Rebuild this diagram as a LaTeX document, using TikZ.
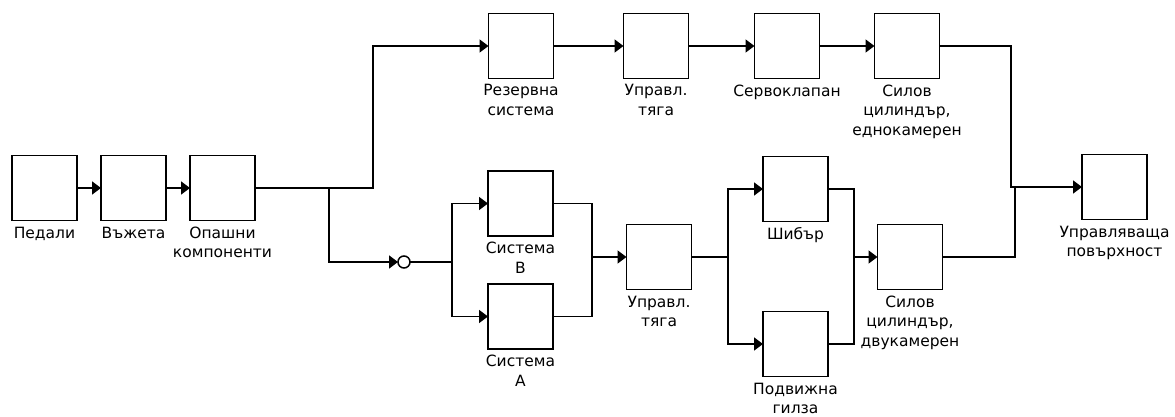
\documentclass[tikz,border=0pt]{standalone}
\usepackage{fontspec}
\setmainfont{DejaVu Sans}
\usetikzlibrary{arrows.meta, positioning}
\tikzset{
    block/.style={rectangle, draw=black, fill=white, line width=1.5pt, minimum width=65pt, minimum height=65pt, inner sep=0pt, outer sep=0pt},
    caption/.style={align=center, inner sep=0pt, font=\fontsize{15.5}{19.5}\selectfont},
    junction/.style={circle, draw=black, fill=white, line width=1.5pt, minimum size=12pt, inner sep=0pt, outer sep=0pt},
    wire/.style={line width=1.5pt},
    arrow/.style={wire, -{Triangle[length=9pt, width=13pt]}}
}

\begin{document}
\begin{tikzpicture}[x=1pt, y=-1pt, node distance=24pt]
        \fill[white] (0,0) rectangle (1175,417);
        \useasboundingbox (0,0) rectangle (1175,417);

        % Input chain
        \node (ped) [block] at (44.5,188) {};
        \node (vuzh) [block, right=24pt of ped] {};
        \node (opash) [block, right=24pt of vuzh] {};

        % Backup branch (top)
        \node (rez) [block] at (521,46) {};
        \node (upr1) [block, right=70pt of rez] {};
        \node (servo) [block, right=66pt of upr1] {};
        \node (silov1) [block, right=55pt of servo] {};

        % Main branch, systems B and A
        \node (sysB) [block] at (520.5,203.5) {};
        \node (sysA) [block, below=48pt of sysB] {};
        \node (upr2) [block] at (659,257) {};

        % Slide valve and sleeve
        \node (shib) [block] at (795.5,189) {};
        \node (podv) [block, below=90pt of shib] {};
        \node (silov2) [block] at (910,257) {};

        % Output
        \node (surf) [block] at (1114.5,187) {};

        % Captions
        \node (pedT) [caption, below=6pt of ped, anchor=north] {Педали};
        \node (vuzhT) [caption, below=6pt of vuzh, anchor=north] {Въжета};
        \node (opashT) [caption, below=6pt of opash, anchor=north] {Опашни\\компоненти};
        \node (rezT) [caption, below=6pt of rez, anchor=north] {Резервна\\система};
        \node (upr1T) [caption, below=6pt of upr1, anchor=north] {Управл.\\тяга};
        \node (servoT) [caption, below=6pt of servo, anchor=north] {Сервоклапан};
        \node (silov1T) [caption, below=6pt of silov1, anchor=north] {Силов\\цилиндър,\\еднокамерен};
        \node (sysBT) [caption, below=6pt of sysB, anchor=north] {Система\\В};
        \node (sysAT) [caption, below=6pt of sysA, anchor=north] {Система\\А};
        \node (upr2T) [caption, below=6pt of upr2, anchor=north] {Управл.\\тяга};
        \node (shibT) [caption, below=6pt of shib, anchor=north] {Шибър};
        \node (podvT) [caption, below=6pt of podv, anchor=north] {Подвижна\\гилза};
        \node (silov2T) [caption, below=6pt of silov2, anchor=north] {Силов\\цилиндър,\\двукамерен};
        \node (surfT) [caption, below=6pt of surf, anchor=north] {Управляваща\\повърхност};

        % Branch points
        \coordinate (jSplit) at (329,188);
        \coordinate (jTop) at (373,188);
        \node (circ) [junction] at (404,262) {};
        \coordinate (jFork) at (452,262);
        \coordinate (jJoin) at (592,257);
        \coordinate (jFork2) at (728,257);
        \coordinate (jJoin2) at (854,257);
        \coordinate (jOutT) at (1011,187);
        \coordinate (jOutB) at (1015,187);

        % Connections
        \draw[arrow] (ped.east) -- (vuzh.west);
        \draw[arrow] (vuzh.east) -- (opash.west);
        \draw[arrow] (opash.east) -- (jTop) |- (rez.west);
        \draw[arrow] (rez.east) -- (upr1.west);
        \draw[arrow] (upr1.east) -- (servo.west);
        \draw[arrow] (servo.east) -- (silov1.west);
        \draw[arrow] (jSplit) |- (circ.west);
        \draw[arrow] (circ.east) -- (jFork) |- (sysB.west);
        \draw[arrow] (jFork) |- (sysA.west);
        \draw[wire] (sysB.east) -| (jJoin);
        \draw[wire] (sysA.east) -| (jJoin);
        \draw[arrow] (jJoin) -- (upr2.west);
        \draw[arrow] (upr2.east) -- (jFork2) |- (shib.west);
        \draw[arrow] (jFork2) |- (podv.west);
        \draw[wire] (shib.east) -| (jJoin2);
        \draw[wire] (podv.east) -| (jJoin2);
        \draw[arrow] (jJoin2) -- (silov2.west);
        \draw[arrow] (silov1.east) -| (jOutT) -- (surf.west);
        \draw[wire] (silov2.east) -| (jOutB);
    \end{tikzpicture}
\end{document}
